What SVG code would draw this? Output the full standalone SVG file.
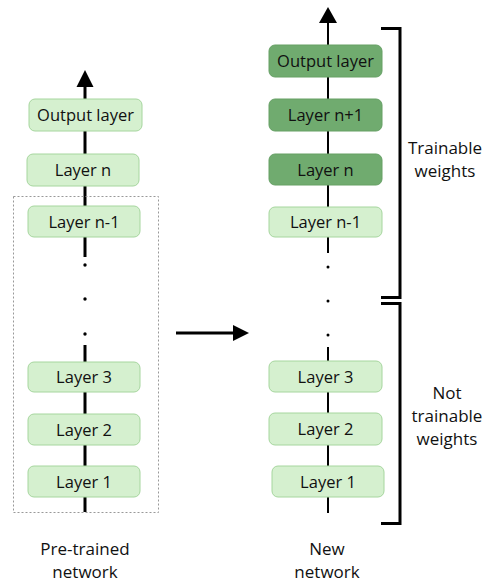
<svg xmlns="http://www.w3.org/2000/svg" width="486" height="583" viewBox="0 0 486 583">
<defs>
<style>
.lb{fill:#d5f0cf;stroke:#a6d69e;stroke-width:1}
.db{fill:#70ab6f;stroke:#66a065;stroke-width:1}
text{font-family:"Open Sans","Noto Sans",sans-serif;font-size:16.5px;fill:#111;text-anchor:middle}
.cap{font-size:17px}
.ln{stroke:#000;fill:none}
.br{stroke:#000;stroke-width:3;fill:none}
.dot{fill:#000}
</style>
</defs>
<g id="connectors">
<line class="ln" x1="85" y1="512" x2="85" y2="345" stroke-width="3"/>
<line class="ln" x1="85" y1="257" x2="85" y2="86" stroke-width="3"/>
<path d="M76.5,87 L85,70 L93.5,87 z" fill="#000"/>
<line class="ln" x1="328" y1="513" x2="328" y2="347" stroke-width="2"/>
<line class="ln" x1="328" y1="253" x2="328" y2="22" stroke-width="2"/>
<path d="M319,23 L328,7 L337,23 z" fill="#000"/>
<line class="ln" x1="176" y1="333" x2="233" y2="333" stroke-width="3"/>
<path d="M233,325 L249,333 L233,341 z" fill="#000"/>
<circle class="dot" cx="85" cy="265" r="1.7"/>
<circle class="dot" cx="85" cy="299" r="1.7"/>
<circle class="dot" cx="85" cy="334" r="1.7"/>
<circle class="dot" cx="328" cy="267" r="1.5"/>
<circle class="dot" cx="328" cy="301" r="1.5"/>
<circle class="dot" cx="328" cy="335" r="1.5"/>
</g>
<g id="pretrained-frame">
<rect x="13.5" y="196.5" width="145" height="316" fill="none" stroke="#999" stroke-width="1" stroke-dasharray="2,2"/>
</g>
<g id="l-output"><rect class="lb" x="29" y="99" width="113" height="32" rx="6"/><text x="85.5" y="120.5">Output layer</text></g>
<g id="l-layern"><rect class="lb" x="27" y="154" width="112" height="32" rx="6"/><text x="83" y="175.5">Layer n</text></g>
<g id="l-layern1"><rect class="lb" x="28" y="206" width="112" height="31" rx="6"/><text x="84" y="227.5">Layer n-1</text></g>
<g id="l-layer3"><rect class="lb" x="28" y="362" width="112" height="30" rx="6"/><text x="84" y="382.5">Layer 3</text></g>
<g id="l-layer2"><rect class="lb" x="28" y="414" width="112" height="31" rx="6"/><text x="84" y="435.5">Layer 2</text></g>
<g id="l-layer1"><rect class="lb" x="28" y="466" width="112" height="31" rx="6"/><text x="84" y="487.5">Layer 1</text></g>
<g id="r-output"><rect class="db" x="269" y="45" width="113" height="32" rx="6"/><text x="325.5" y="66.5">Output layer</text></g>
<g id="r-layern1"><rect class="db" x="269" y="99" width="113" height="32" rx="6"/><text x="325.5" y="120.5">Layer n+1</text></g>
<g id="r-layern"><rect class="db" x="269" y="154" width="113" height="31" rx="6"/><text x="325.5" y="175.5">Layer n</text></g>
<g id="r-layernm1"><rect class="lb" x="269" y="207" width="113" height="30" rx="6"/><text x="325.5" y="227.5">Layer n-1</text></g>
<g id="r-layer3"><rect class="lb" x="269" y="361" width="113" height="31" rx="6"/><text x="325.5" y="382.5">Layer 3</text></g>
<g id="r-layer2"><rect class="lb" x="269" y="413" width="113" height="32" rx="6"/><text x="325.5" y="434.5">Layer 2</text></g>
<g id="r-layer1"><rect class="lb" x="272" y="466" width="112" height="31" rx="6"/><text x="328" y="487.5">Layer 1</text></g>
<g id="brackets">
<path class="br" d="M381,28.5 H400 V297.5 H381"/>
<path class="br" d="M381,303.5 H400 V523.5 H381"/>
</g>
<g id="labels">
<text class="cap" x="445" y="154">Trainable</text>
<text class="cap" x="445" y="177">weights</text>
<text class="cap" x="447" y="399">Not</text>
<text class="cap" x="447" y="422">trainable</text>
<text class="cap" x="447" y="445">weights</text>
<text class="cap" x="85" y="555">Pre-trained</text>
<text class="cap" x="85" y="578">network</text>
<text class="cap" x="327" y="555">New</text>
<text class="cap" x="327" y="578">network</text>
</g>
</svg>
